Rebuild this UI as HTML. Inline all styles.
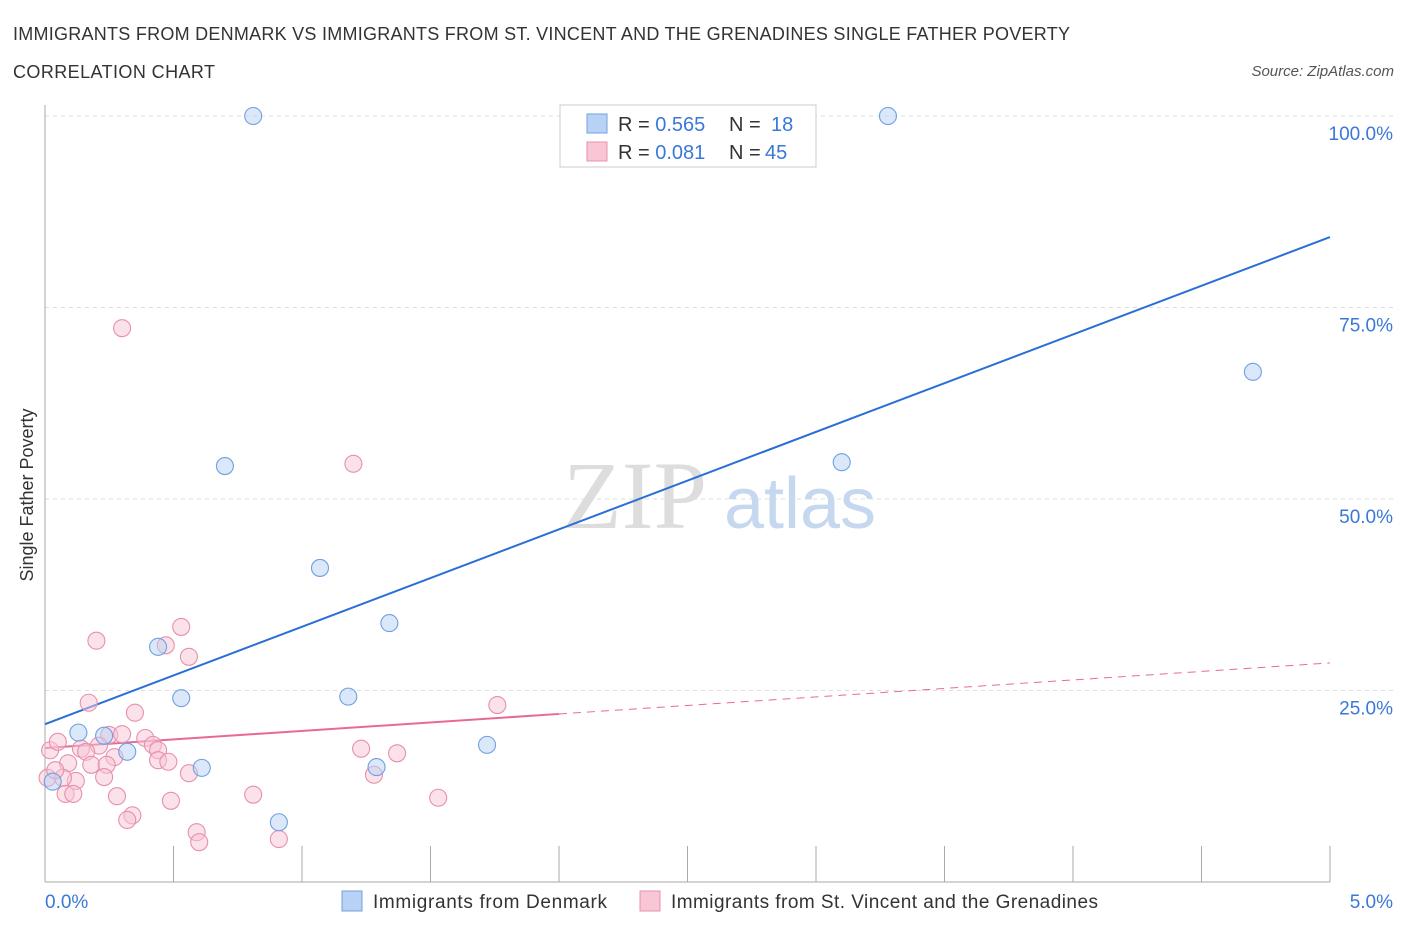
<!DOCTYPE html>
<html><head><meta charset="utf-8"><style>
body{margin:0;background:#fff;font-family:"Liberation Sans",sans-serif;}
</style></head><body>
<svg width="1406" height="930" xmlns="http://www.w3.org/2000/svg">
<text x="13" y="40" font-size="18" fill="#333" textLength="1057">IMMIGRANTS FROM DENMARK VS IMMIGRANTS FROM ST. VINCENT AND THE GRENADINES SINGLE FATHER POVERTY</text>
<text x="13" y="78" font-size="18" fill="#333" textLength="202">CORRELATION CHART</text>
<text x="1394" y="76" font-size="15" fill="#555" font-style="italic" text-anchor="end">Source: ZipAtlas.com</text>
<g id="grid"></g>
<text x="635" y="528" font-size="96" font-family="Liberation Serif" fill="#ddd" text-anchor="middle">ZIP</text>
<text x="800" y="528" font-size="72" fill="#c5d8f0" text-anchor="middle">atlas</text>
<g id="axes"></g>
<g id="lines"></g>
<g id="points"></g>
<text x="33" y="495" font-size="18" fill="#333" text-anchor="middle" transform="rotate(-90 33 495)">Single Father Poverty</text>
<text x="45" y="908" font-size="19" fill="#3a78d8">0.0%</text>
<text x="1393" y="908" font-size="19" fill="#3a78d8" text-anchor="end">5.0%</text>
<g>
<rect x="560" y="105" width="256" height="62" fill="#fff" stroke="#ccc"/>
<rect x="587" y="114" width="20" height="19" fill="#b8d2f5" stroke="#6fa0e0"/>
<rect x="587" y="142" width="20" height="19" fill="#f8c6d5" stroke="#e890aa"/>
<text x="618" y="131" font-size="20" fill="#333">R = <tspan fill="#3a78d8">0.565</tspan></text>
<text x="729" y="131" font-size="20" fill="#333">N = </text><text x="771" y="131" font-size="20" fill="#3a78d8">18</text>
<text x="618" y="159" font-size="20" fill="#333">R = <tspan fill="#3a78d8"> 0.081</tspan></text>
<text x="729" y="159" font-size="20" fill="#333">N = </text><text x="765" y="159" font-size="20" fill="#3a78d8">45</text>
</g>
<g>
<rect x="342" y="891" width="20" height="20" fill="#b8d2f5" stroke="#6fa0e0"/>
<text x="373" y="908" font-size="19" fill="#333" textLength="234">Immigrants from Denmark</text>
<rect x="640" y="891" width="20" height="20" fill="#f8c6d5" stroke="#e890aa"/>
<text x="671" y="908" font-size="19" fill="#333" textLength="427">Immigrants from St. Vincent and the Grenadines</text>
</g>
</svg>
<script>
const yTicks=[25,50,75,100];
const xTicks=[0,0.5,1,1.5,2,2.5,3,3.5,4,4.5,5];
const blueX=[0.81,3.28,4.70,3.10,0.70,1.07,1.34,0.44,0.53,1.18,0.13,0.23,0.32,1.72,0.61,1.29,0.91,0.03];
const blueY=[100,100,66.6,54.8,54.3,41.0,33.8,30.7,24.0,24.2,19.5,19.1,17.0,17.9,14.9,15.0,7.8,13.1];
const pinkX=[0.30,1.20,0.20,0.53,0.47,0.56,0.17,1.76,0.35,0.25,0.30,0.39,0.42,0.44,0.21,0.14,0.02,0.05,0.16,0.27,0.44,0.48,0.18,0.24,0.09,1.23,1.37,0.56,1.28,0.23,0.12,0.01,0.07,0.28,0.08,0.49,0.81,1.53,0.34,0.32,0.59,0.60,0.91,0.04,0.11];
const pinkY=[72.3,54.6,31.5,33.3,30.9,29.4,23.4,23.1,22.1,19.2,19.3,18.8,17.9,17.2,17.8,17.4,17.2,18.3,17.0,16.3,15.9,15.7,15.3,15.3,15.5,17.4,16.8,14.2,14.0,13.7,13.2,13.6,13.6,11.2,11.5,10.6,11.4,11.0,8.7,8.1,6.5,5.2,5.6,14.6,11.5];
const blueLine=[20.6,84.2];
const pinkLine=[17.5,28.6];
const pinkSolidEnd=2.0;
const NS="http://www.w3.org/2000/svg";
const X=v=>45+v*257, Y=v=>882-v*7.66;
function mk(t,a,p){const e=document.createElementNS(NS,t);for(const k in a)e.setAttribute(k,a[k]);document.getElementById(p).appendChild(e);return e;}
yTicks.forEach(t=>{
 const l=mk('line',{x1:45,x2:1393,y1:Y(t),y2:Y(t),stroke:'#ddd','stroke-dasharray':'4,4'},'grid');
 
 
 const s=mk('text',{x:1393,y:Y(t)+24,'font-size':19,fill:'#3a78d8','text-anchor':'end'},'grid');
 s.textContent=t.toFixed(1)+'%';
 
 
});
let a=mk('line',{x1:45,x2:45,y1:105,y2:882,stroke:'#aaa'},'axes');


a=mk('line',{x1:45,x2:1330,y1:882,y2:882,stroke:'#aaa'},'axes');


xTicks.forEach(t=>{
 const l=mk('line',{x1:X(t),x2:X(t),y1:846,y2:882,stroke:'#aaa'},'axes');
 
 
});
function pt(x,y,f,s,n){const c=mk('circle',{cx:X(x),cy:Y(y),r:8.5,fill:f,'fill-opacity':0.5,stroke:s,'stroke-width':1.1},'points');
 
 }
pinkX.forEach((x,i)=>pt(x,pinkY[i],'#f8c6d5','#e890aa','point-stvincent'));
blueX.forEach((x,i)=>pt(x,blueY[i],'#b8d2f5','#6fa0e0','point-denmark'));
let ln=mk('line',{x1:X(0),y1:Y(blueLine[0]),x2:X(5),y2:Y(blueLine[1]),stroke:'#2a6fd6','stroke-width':2},'lines');


const pm=v=>pinkLine[0]+(pinkLine[1]-pinkLine[0])*v/5;
ln=mk('line',{x1:X(0),y1:Y(pm(0)),x2:X(pinkSolidEnd),y2:Y(pm(pinkSolidEnd)),stroke:'#e86a94','stroke-width':2},'lines');


ln=mk('line',{x1:X(pinkSolidEnd),y1:Y(pm(pinkSolidEnd)),x2:X(5),y2:Y(pm(5)),stroke:'#e86a94','stroke-width':1,'stroke-dasharray':'8,6'},'lines');


</script>
</body></html>
